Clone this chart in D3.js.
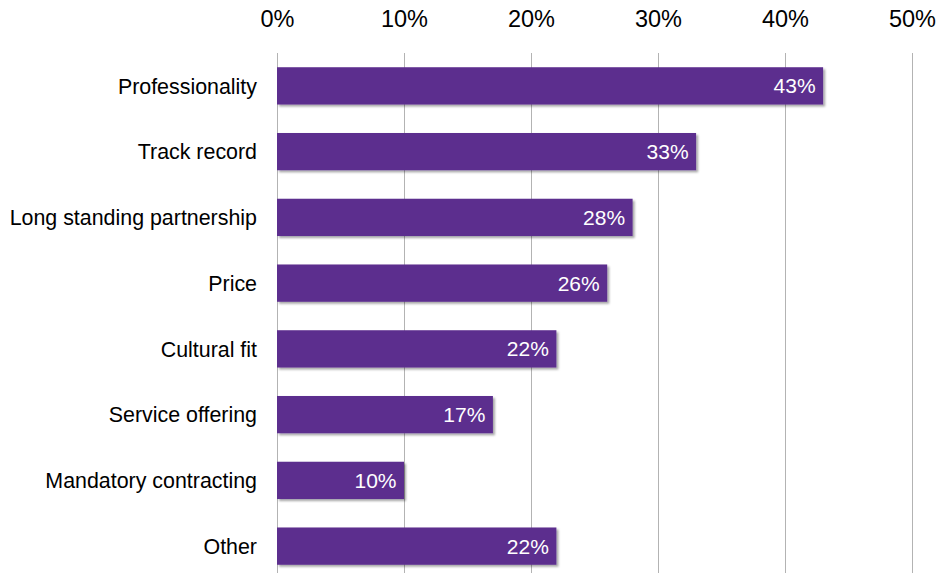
<!DOCTYPE html>
<html>
<head>
<meta charset="utf-8">
<script src="https://cdn.jsdelivr.net/npm/d3@7"></script>
<style>
  html, body { margin: 0; padding: 0; background: #ffffff; }
  svg { display: block; font-family: "Liberation Sans", Arial, sans-serif; }
</style>
</head>
<body>
<svg id="chart" width="940" height="573"></svg>
<script>
// Reasons for choosing a provider (share of respondents)
const categories = [
  "Professionality",
  "Track record",
  "Long standing partnership",
  "Price",
  "Cultural fit",
  "Service offering",
  "Mandatory contracting",
  "Other"
];
const shares = [43, 33, 28, 26, 22, 17, 10, 22];
const tickValues = [0, 10, 20, 30, 40, 50];

const rows = categories.map((c, i) => ({ category: c, value: shares[i] }));

const svg = d3.select("#chart");
const plotLeft = 277, plotRight = 912;
const plotTop = 53, plotBottom = 579;

const x = d3.scaleLinear().domain([0, 50]).range([plotLeft, plotRight]);
const y = d3.scaleBand()
  .domain(categories)
  .range([plotTop, plotBottom])
  .paddingInner(0.433)
  .paddingOuter(0.2165);

// soft drop shadow under the bars
const defs = svg.append("defs");
const f = defs.append("filter").attr("id", "shadow")
  .attr("x", "-5%").attr("y", "-20%").attr("width", "115%").attr("height", "160%");
f.append("feDropShadow")
  .attr("dx", 2).attr("dy", 2).attr("stdDeviation", 1.3)
  .attr("flood-color", "#000").attr("flood-opacity", 0.35);

// vertical gridlines
svg.append("g")
  .selectAll("line")
  .data(tickValues)
  .join("line")
  .attr("x1", d => Math.round(x(d)) + 0.5)
  .attr("x2", d => Math.round(x(d)) + 0.5)
  .attr("y1", plotTop)
  .attr("y2", 573)
  .attr("stroke", "#b3b3b3")
  .attr("stroke-width", 1);

// top axis labels
const xAxis = d3.axisTop(x)
  .tickValues(tickValues)
  .tickFormat(d => d + "%")
  .tickSize(0)
  .tickPadding(0);
const gx = svg.append("g")
  .attr("transform", "translate(0,26.5)")
  .call(xAxis);
gx.select(".domain").remove();
gx.selectAll("text")
  .attr("font-size", 23.5)
  .attr("font-family", "'Liberation Sans', Arial, sans-serif")
  .attr("fill", "#000")
  .attr("dy", 0);

// bars
svg.append("g")
  .selectAll("rect")
  .data(rows)
  .join("rect")
  .attr("x", x(0))
  .attr("y", d => y(d.category))
  .attr("width", d => x(d.value) - x(0))
  .attr("height", y.bandwidth())
  .attr("fill", "#5b2d8e")
  .attr("filter", "url(#shadow)");

// value labels inside the bar ends
svg.append("g")
  .selectAll("text")
  .data(rows)
  .join("text")
  .attr("x", d => x(d.value) - 7.5)
  .attr("y", d => y(d.category) + y.bandwidth() / 2)
  .attr("dy", "0.36em")
  .attr("text-anchor", "end")
  .attr("font-size", 21)
  .attr("fill", "#ffffff")
  .text(d => d.value + "%");

// category labels
svg.append("g")
  .selectAll("text")
  .data(rows)
  .join("text")
  .attr("x", 257)
  .attr("y", d => y(d.category) + y.bandwidth() / 2)
  .attr("dy", "0.36em")
  .attr("text-anchor", "end")
  .attr("font-size", 21.4)
  .attr("fill", "#000")
  .text(d => d.category);
</script>
</body>
</html>
